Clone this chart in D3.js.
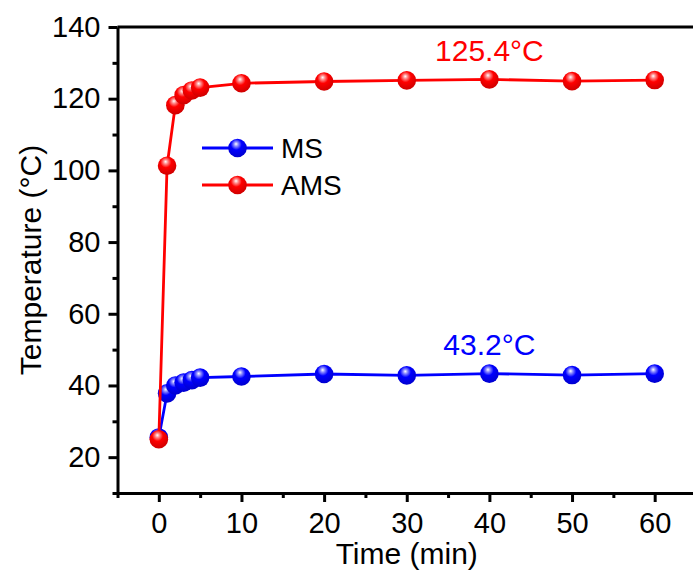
<!DOCTYPE html>
<html>
<head>
<meta charset="utf-8">
<script src="https://cdn.jsdelivr.net/npm/d3@7"></script>
<style>
  body { margin: 0; background: #fff; }
  svg text { font-family: "Liberation Sans", Arial, Helvetica, sans-serif; }
</style>
</head>
<body>
<div id="chart"></div>
<script>
// data
const times = [0, 1, 2, 3, 4, 5, 10, 20, 30, 40, 50, 60];
const msTemps = [25.5, 37.8, 40.0, 40.8, 41.5, 42.2, 42.5, 43.2, 42.8, 43.3, 42.9, 43.3];
const amsTemps = [25.0, 101.3, 118.2, 121.0, 122.3, 123.1, 124.3, 124.8, 125.1, 125.4, 124.9, 125.2];
const seriesNames = ["MS", "AMS"];
const seriesColors = ["#0000ff", "#ff0000"];
const peakLabels = ["43.2°C", "125.4°C"];
const xTicks = [0, 10, 20, 30, 40, 50, 60];
const xMinor = [-5, 5, 15, 25, 35, 45, 55, 65];
const yTicks = [20, 40, 60, 80, 100, 120, 140];
const yMinor = [10, 30, 50, 70, 90, 110, 130];

const width = 693, height = 577;
const margin = { left: 117.5, top: 27, right: -3, bottom: 84 };

const svg = d3.select("#chart")
  .append("svg")
  .attr("width", width)
  .attr("height", height);

const x = d3.scaleLinear().domain([-5, 65]).range([margin.left, width - margin.right]);
const y = d3.scaleLinear().domain([10, 140]).range([height - margin.bottom, margin.top]);

// sphere gradients for the markers
const defs = svg.append("defs");
seriesColors.forEach((c, i) => {
  const g = defs.append("radialGradient")
    .attr("id", "ball" + i)
    .attr("cx", "45%").attr("cy", "35%").attr("r", "65%")
    .attr("fx", "42%").attr("fy", "28%");
  g.append("stop").attr("offset", "0%").attr("stop-color", "#ffffff");
  g.append("stop").attr("offset", "18%").attr("stop-color", d3.interpolateRgb("#fff", c)(0.45));
  g.append("stop").attr("offset", "45%").attr("stop-color", c);
  g.append("stop").attr("offset", "100%").attr("stop-color", d3.rgb(c).darker(0.6));
});

// axes
const axisFont = 29;
svg.append("g")
  .attr("transform", `translate(0,${y(10)})`)
  .call(d3.axisBottom(x).tickValues(xTicks).tickSize(9).tickSizeOuter(0).tickPadding(10));
svg.append("g")
  .attr("transform", `translate(0,${y(10)})`)
  .call(d3.axisBottom(x).tickValues(xMinor).tickSize(5).tickSizeOuter(0).tickFormat(""))
  .call(g => g.select(".domain").remove());

svg.append("g")
  .attr("transform", `translate(${x(-5)},0)`)
  .call(d3.axisLeft(y).tickValues(yTicks).tickSize(9).tickSizeOuter(0).tickPadding(8));
svg.append("g")
  .attr("transform", `translate(${x(-5)},0)`)
  .call(d3.axisLeft(y).tickValues(yMinor).tickSize(5).tickSizeOuter(0).tickFormat(""))
  .call(g => g.select(".domain").remove());

// top and right frame
svg.append("line")
  .attr("x1", x(-5)).attr("x2", x(65))
  .attr("y1", y(140)).attr("y2", y(140))
  .attr("stroke", "#000").attr("stroke-width", 3);
svg.append("line")
  .attr("x1", x(65)).attr("x2", x(65))
  .attr("y1", y(140)).attr("y2", y(10))
  .attr("stroke", "#000").attr("stroke-width", 3);

svg.selectAll(".domain, .tick line")
  .attr("stroke", "#000").attr("stroke-width", 3);
svg.selectAll(".tick text")
  .attr("font-size", axisFont).attr("fill", "#000");

// axis titles
svg.append("text")
  .attr("x", (x(-5) + x(65)) / 2)
  .attr("y", 564)
  .attr("text-anchor", "middle")
  .attr("font-size", 30)
  .text("Time (min)");
svg.append("text")
  .attr("transform", `translate(41,${(y(10) + y(140)) / 2}) rotate(-90)`)
  .attr("text-anchor", "middle")
  .attr("font-size", 30)
  .text("Temperature (°C)");

// series
const allSeries = [msTemps, amsTemps];
const line = d3.line().x(d => x(d[0])).y(d => y(d[1]));

allSeries.forEach((vals, i) => {
  const pts = times.map((t, j) => [t, vals[j]]);
  svg.append("path")
    .datum(pts)
    .attr("fill", "none")
    .attr("stroke", seriesColors[i])
    .attr("stroke-width", 2.8)
    .attr("d", line);
  svg.append("g")
    .selectAll("circle")
    .data(pts)
    .join("circle")
    .attr("cx", d => x(d[0]))
    .attr("cy", d => y(d[1]))
    .attr("r", 9.3)
    .attr("fill", `url(#ball${i})`);
});

// peak annotations
peakLabels.forEach((lab, i) => {
  svg.append("text")
    .attr("x", x(40))
    .attr("y", i === 0 ? 355 : 61)
    .attr("text-anchor", "middle")
    .attr("font-size", 30)
    .attr("fill", seriesColors[i])
    .text(lab);
});

// legend
const legend = svg.append("g");
seriesNames.forEach((name, i) => {
  const ly = 148 + i * 37;
  legend.append("line")
    .attr("x1", 202).attr("x2", 273)
    .attr("y1", ly).attr("y2", ly)
    .attr("stroke", seriesColors[i]).attr("stroke-width", 2.8);
  legend.append("circle")
    .attr("cx", 237.5).attr("cy", ly).attr("r", 9.3)
    .attr("fill", `url(#ball${i})`);
  legend.append("text")
    .attr("x", 281).attr("y", ly + 10)
    .attr("font-size", 28)
    .text(name);
});
</script>
</body>
</html>
